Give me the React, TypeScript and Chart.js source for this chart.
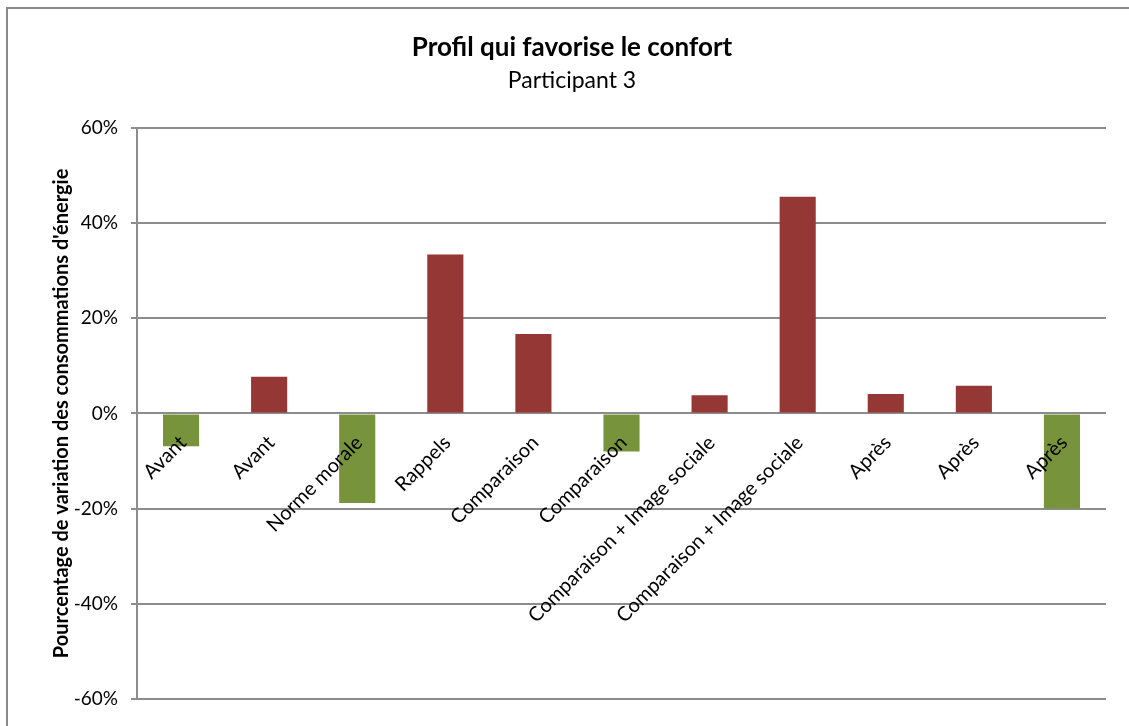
import React, { useEffect, useRef } from "react";
import { Chart, registerables } from "chart.js";

Chart.register(...registerables);

const categories = [
  "Avant",
  "Avant",
  "Norme morale",
  "Rappels",
  "Comparaison",
  "Comparaison",
  "Comparaison + Image sociale",
  "Comparaison + Image sociale",
  "Après",
  "Après",
  "Après",
];
const values = [-6.9, 7.7, -18.8, 33.4, 16.7, -8.0, 3.8, 45.5, 4.1, 5.8, -20.0];
const yTicks = [-60, -40, -20, 0, 20, 40, 60];

const RED = "#953735";
const GREEN = "#77933C";
const GRID = "#8c8c8c";
const FONT = "Lato, 'Liberation Sans', sans-serif";

const frame = {
  id: "frame",
  beforeDraw(chart: any) {
    const { ctx, width, height } = chart;
    ctx.save();
    ctx.fillStyle = "#ffffff";
    ctx.fillRect(0, 0, width, height);
    ctx.strokeStyle = "#8a8a8a";
    ctx.lineWidth = 2;
    ctx.beginPath();
    ctx.moveTo(7, height + 2);
    ctx.lineTo(7, 8);
    ctx.lineTo(width + 2, 8);
    ctx.stroke();
    ctx.restore();
  },
};

const catLabels = {
  id: "catLabels",
  afterDatasetsDraw(chart: any) {
    const { ctx } = chart;
    const x = chart.scales.x;
    const y = chart.scales.y;
    const zero = y.getPixelForValue(0);
    ctx.save();
    ctx.fillStyle = "#000";
    ctx.font = `20px ${FONT}`;
    ctx.textAlign = "right";
    ctx.textBaseline = "middle";
    categories.forEach((c, i) => {
      const cx = x.getPixelForValue(i);
      ctx.save();
      ctx.translate(cx + 2, zero + 26);
      ctx.rotate(-Math.PI / 4);
      ctx.fillText(c, 0, 0);
      ctx.restore();
    });
    ctx.restore();
  },
};

export default function App() {
  const ref = useRef<HTMLCanvasElement | null>(null);
  useEffect(() => {
    document.body.style.margin = "0";
    const canvas = ref.current!;
    const chart = new Chart(canvas, {
      type: "bar",
      data: {
        labels: categories,
        datasets: [
          {
            data: values,
            backgroundColor: (c: any) => (c.raw < 0 ? GREEN : RED),
            categoryPercentage: 1,
            barPercentage: 0.41,
          },
        ],
      },
      plugins: [frame, catLabels],
      options: {
        animation: false,
        responsive: false,
        layout: { padding: { left: 38, right: 23, top: 0, bottom: 27 } },
        plugins: {
          legend: { display: false },
          tooltip: { enabled: false },
          title: {
            display: true,
            text: "Profil qui favorise le confort",
            color: "#000",
            font: { family: FONT, size: 26, weight: "bold", lineHeight: 1.2 },
            padding: { top: 32, bottom: 0 },
          },
          subtitle: {
            display: true,
            text: "Participant 3",
            color: "#000",
            font: { family: FONT, size: 23, weight: "normal", lineHeight: 1.2 },
            padding: { top: 4, bottom: 33 },
          },
        },
        scales: {
          x: {
            display: false,
            grid: { display: false },
          },
          y: {
            min: -60,
            max: 60,
            afterBuildTicks: (s: any) => {
              s.ticks = yTicks.map((v) => ({ value: v }));
            },
            afterFit: (s: any) => {
              s.width = 99;
            },
            ticks: {
              color: "#000",
              font: { family: FONT, size: 19 },
              padding: 13,
              callback: (v: any) => `${v}%`,
            },
            grid: {
              color: GRID,
              lineWidth: 2,
              tickLength: 6,
              drawTicks: true,
            },
            border: { color: GRID, width: 2 },
            title: {
              display: true,
              text: "Pourcentage de variation des consommations d'énergie",
              color: "#000",
              font: { family: FONT, size: 20, weight: "bold" },
              padding: { top: 12, bottom: 0 },
            },
          },
        },
      },
    });
    return () => chart.destroy();
  }, []);
  return <canvas ref={ref} width={1129} height={726} style={{ display: "block" }} />;
}
